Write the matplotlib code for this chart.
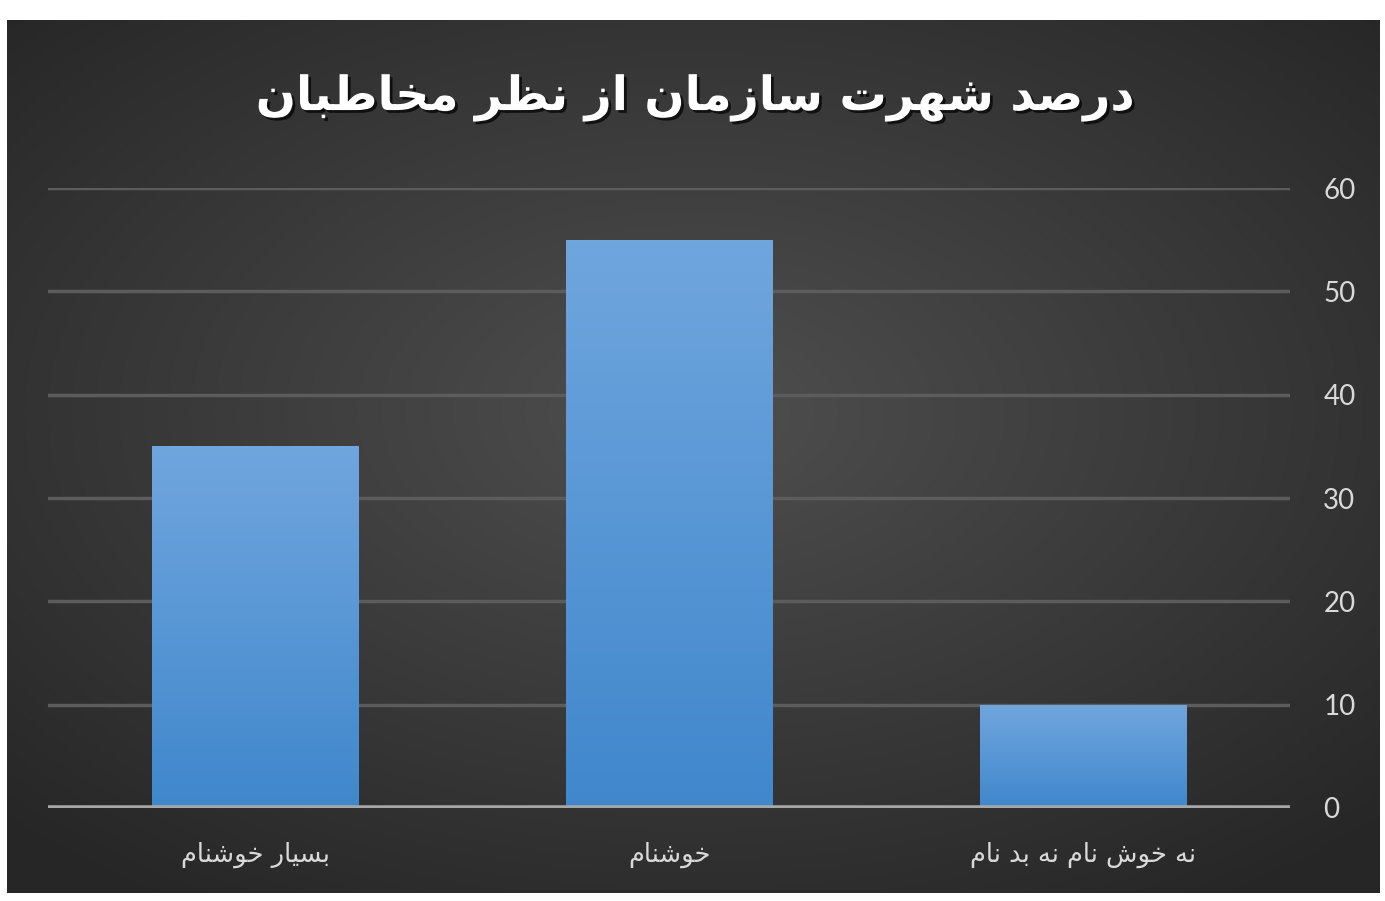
import numpy as np
import matplotlib
matplotlib.use("Agg")
import matplotlib.pyplot as plt
import matplotlib.patheffects as pe

# data
categories = ["بسیار خوشنام", "خوشنام", "نه خوش نام نه بد نام"]
values = [35, 55, 10]
yticks = [0, 10, 20, 30, 40, 50, 60]
title = "درصد شهرت سازمان از نظر مخاطبان"

# simple persian shaping (isolated, final, initial, medial)
forms = {
    "ا": (0xFE8D, 0xFE8E, None, None),
    "ب": (0xFE8F, 0xFE90, 0xFE91, 0xFE92),
    "ت": (0xFE95, 0xFE96, 0xFE97, 0xFE98),
    "خ": (0xFEA5, 0xFEA6, 0xFEA7, 0xFEA8),
    "د": (0xFEA9, 0xFEAA, None, None),
    "ر": (0xFEAD, 0xFEAE, None, None),
    "ز": (0xFEAF, 0xFEB0, None, None),
    "س": (0xFEB1, 0xFEB2, 0xFEB3, 0xFEB4),
    "ش": (0xFEB5, 0xFEB6, 0xFEB7, 0xFEB8),
    "ص": (0xFEB9, 0xFEBA, 0xFEBB, 0xFEBC),
    "ط": (0xFEC1, 0xFEC2, 0xFEC3, 0xFEC4),
    "ظ": (0xFEC5, 0xFEC6, 0xFEC7, 0xFEC8),
    "م": (0xFEE1, 0xFEE2, 0xFEE3, 0xFEE4),
    "ن": (0xFEE5, 0xFEE6, 0xFEE7, 0xFEE8),
    "ه": (0xFEE9, 0xFEEA, 0xFEEB, 0xFEEC),
    "و": (0xFEED, 0xFEEE, None, None),
    "ی": (0xFBFC, 0xFBFD, 0xFBFE, 0xFBFF),
}


def shape(txt):
    out = []
    for i, ch in enumerate(txt):
        if ch not in forms:
            out.append(ch)
            continue
        prev = txt[i - 1] if i > 0 else None
        nxt = txt[i + 1] if i + 1 < len(txt) else None
        joinPrev = prev in forms and forms[prev][2] is not None
        joinNext = forms[ch][2] is not None and nxt in forms
        if joinPrev and joinNext:
            k = 3
        elif joinPrev:
            k = 1
        elif joinNext:
            k = 2
        else:
            k = 0
        out.append(chr(forms[ch][k]))
    return "".join(out)[::-1]


W, H = 1385, 901
fig = plt.figure(figsize=(W / 100, H / 100), dpi=100)
fig.patch.set_facecolor("white")

# dark panel with radial gradient
bg = fig.add_axes([7 / W, 1 - 893 / H, (1380 - 7) / W, (893 - 20) / H])
gx, gy = np.meshgrid(np.linspace(-1, 1, 400), np.linspace(-1, 1, 300))
r = np.sqrt((gx * 0.95) ** 2 + ((gy + 0.1) * 1.0) ** 2)
r = np.clip(r / 1.35, 0, 1)
shade = 0.31 - 0.16 * r
bg.imshow(np.dstack([shade, shade, shade]), aspect="auto", extent=[0, 1, 0, 1],
          interpolation="bicubic")
bg.set_axis_off()

ax = fig.add_axes([48 / W, 1 - 808 / H, 1242 / W, 620 / H])
ax.set_facecolor("none")
x = np.arange(len(categories))
bars = ax.bar(x, values, width=0.5, color="#4a90d6", zorder=3)

# vertical gradient in each bar
grad = np.linspace(0, 1, 256).reshape(-1, 1)
top = np.array([0.44, 0.65, 0.87])
bot = np.array([0.25, 0.53, 0.80])
img = bot + (top - bot) * grad[:, :, None] * np.ones((1, 1, 3))
for b in bars:
    bx, by = b.get_x(), b.get_y()
    im = ax.imshow(img, extent=[bx, bx + b.get_width(), by, by + b.get_height()],
                   origin="lower", aspect="auto", zorder=4)
    im.set_clip_path(b)

ax.set_xlim(-0.5, len(categories) - 0.5)
ax.set_ylim(0, 60)
ax.set_yticks(yticks)
ax.yaxis.tick_right()
ax.grid(axis="y", color="#5c5c5c", linewidth=2.5, zorder=1)
ax.axhline(0, color="#a6a6a6", linewidth=4, zorder=5)
for s in ax.spines.values():
    s.set_visible(False)
ax.tick_params(axis="y", length=0, pad=24, labelsize=20, labelcolor="#d9d9d9")
for t in ax.get_yticklabels():
    t.set_fontfamily("Lato")
ax.set_xticks(x)
ax.set_xticklabels([shape(c) for c in categories], fontsize=18.5, color="#d9d9d9",
                   fontfamily="DejaVu Sans")
ax.tick_params(axis="x", length=0, pad=24)

fig.text(695 / W, 1 - 98 / H, shape(title), ha="center", va="center",
         fontsize=34, fontweight="bold", color="white", fontfamily="DejaVu Sans",
         path_effects=[pe.withSimplePatchShadow(offset=(2, -2), shadow_rgbFace="black", alpha=0.7)])

fig.savefig("out.png", dpi=100, facecolor="white")
